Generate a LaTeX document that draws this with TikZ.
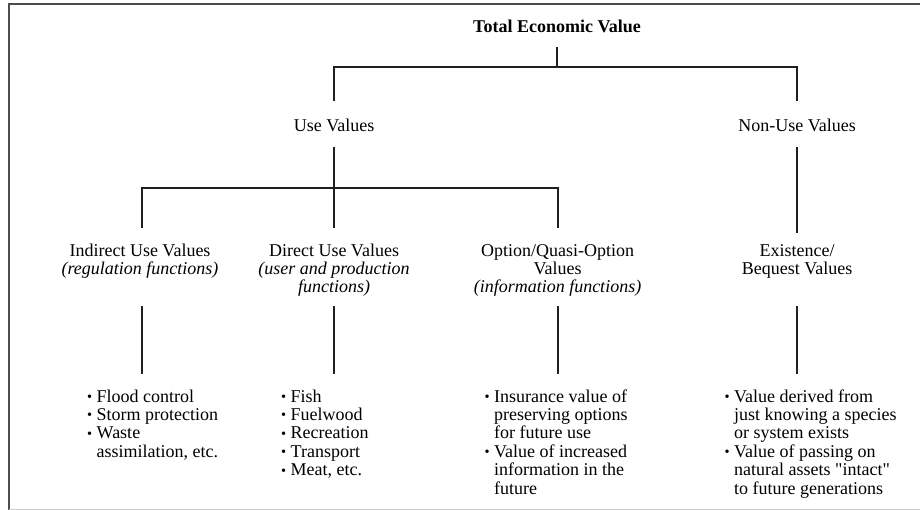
\documentclass[tikz,border=0pt]{standalone}
\usepackage{fontspec}
\setmainfont{Liberation Serif}
\newcommand\ctrlines[1]{\vtop{\baselineskip=18pt\halign{\hfil##\hfil\cr#1\crcr}}}
\newcommand\leftlines[1]{\vtop{\baselineskip=18.4pt\halign{##\hfil\cr#1\crcr}}}
\newcommand\bul{\makebox[9.5pt][l]{\raisebox{0.6pt}{\scalebox{0.8}{\textbullet}}}}
\newcommand\ind{\hspace*{9.5pt}}
\newcommand\sq{\textquotedbl}
\begin{document}
\begin{tikzpicture}[x=1pt,y=-1pt,
  txt/.style={font=\fontsize{18}{18}\selectfont, inner sep=0pt, anchor=base},
  listtxt/.style={font=\fontsize{18}{18}\selectfont, inner sep=0pt, anchor=base west},
  conn/.style={line width=1.7pt, draw=black!88, line cap=rect}]
\fill[white] (0,0) rectangle (920,510);
\useasboundingbox (0,0) rectangle (920,510);
% frame
\draw[line width=2pt, draw=black!70] (9,510) -- (9,4) -- (920,4);
\draw[line width=1pt, draw=black!20] (9,509) -- (920,509);

% nodes
\node[txt] (tev) at (557,33) {\bfseries Total Economic Value};
\node[txt] (use) at (334,132) {Use Values};
\node[txt] (nonuse) at (797,132) {Non-Use Values};
\node[txt] (indirect) at (140,257) {\ctrlines{Indirect Use Values\cr\itshape (regulation functions)}};
\node[txt] (direct) at (334,257) {\ctrlines{Direct Use Values\cr\itshape (user and production\cr\itshape functions)}};
\node[txt] (option) at (557.5,257) {\ctrlines{Option/Quasi-Option\cr Values\cr\itshape (information functions)}};
\node[txt] (exist) at (797,257) {\ctrlines{Existence/\cr Bequest Values}};

\node[listtxt] (l1) at (87,402) {\leftlines{\bul Flood control\cr\bul Storm protection\cr\bul Waste\cr\ind assimilation, etc.}};
\node[listtxt] (l2) at (281,402) {\leftlines{\bul Fish\cr\bul Fuelwood\cr\bul Recreation\cr\bul Transport\cr\bul Meat, etc.}};
\node[listtxt] (l3) at (484.5,402) {\leftlines{\bul Insurance value of\cr\ind preserving options\cr\ind for future use\cr\bul Value of increased\cr\ind information in the\cr\ind future}};
\node[listtxt] (l4) at (724.5,402) {\leftlines{\bul Value derived from\cr\ind just knowing a species\cr\ind or system exists\cr\bul Value of passing on\cr\ind natural assets \sq intact\sq\cr\ind to future generations}};

% connector end points
\coordinate (tevB) at (557,48);
\coordinate (j1) at (557,67);
\coordinate (useT) at (334,100);
\coordinate (nonT) at (797,100);
\coordinate (useB) at (334,148);
\coordinate (j2) at (334,188);
\coordinate (nonB) at (797,148);
\coordinate (nonE) at (797,232);
\coordinate (indT) at (142,227);
\coordinate (dirT) at (334,227);
\coordinate (optT) at (558,227);
\coordinate (indB) at (142,307);
\coordinate (dirB) at (334,307);
\coordinate (optB) at (558,307);
\coordinate (exiB) at (797,307);
\coordinate (l1T) at (142,373);
\coordinate (l2T) at (334,373);
\coordinate (l3T) at (558,373);
\coordinate (l4T) at (797,373);

% connectors
\draw[conn] (tevB) -- (j1);
\draw[conn] (useT) |- (j1) -| (nonT);
\draw[conn] (useB) -- (dirT);
\draw[conn] (indT) |- (j2) -| (optT);
\draw[conn] (nonB) -- (nonE);
\draw[conn] (indB) -- (l1T);
\draw[conn] (dirB) -- (l2T);
\draw[conn] (optB) -- (l3T);
\draw[conn] (exiB) -- (l4T);
\end{tikzpicture}
\end{document}
